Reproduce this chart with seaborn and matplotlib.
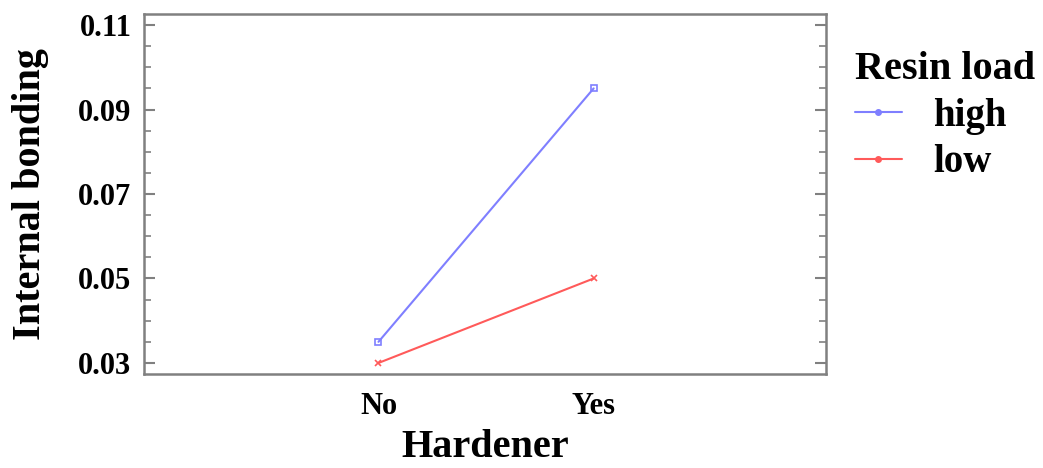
import numpy as np
import pandas as pd
import seaborn as sns
import matplotlib.pyplot as plt
from matplotlib.ticker import MultipleLocator

hardener = ["No", "Yes", "No", "Yes"]
resin_load = ["high", "high", "low", "low"]
bonding = [0.035, 0.095, 0.030, 0.050]

df = pd.DataFrame({"Hardener": hardener, "Resin load": resin_load, "Internal bonding": bonding})

sns.set_style("white")
plt.rcParams['font.family'] = ['Liberation Serif', 'DejaVu Serif']
plt.rcParams['font.weight'] = 'bold'
plt.rcParams['text.color'] = 'black'
plt.rcParams['axes.labelcolor'] = 'black'
plt.rcParams['xtick.color'] = 'black'
plt.rcParams['ytick.color'] = 'black'

fig = plt.figure(figsize=(10.43, 4.68), dpi=100)
ax = fig.add_axes([0.138, 0.201, 0.654, 0.769])

pal = {"high": "#7f7fff", "low": "#ff5a5a"}
mk = {"high": "s", "low": "x"}
for level in ["high", "low"]:
    sub = df[df["Resin load"] == level]
    sns.lineplot(data=sub, x="Hardener", y="Internal bonding", color=pal[level],
                 marker=mk[level], markersize=4, markeredgewidth=1.2,
                 markerfacecolor='none' if level == "high" else pal[level],
                 markeredgecolor=pal[level], linewidth=1.5, ax=ax)

ax.set_xlim(-1.09, 2.08)
ax.set_ylim(0.0274, 0.1126)
ax.yaxis.set_minor_locator(MultipleLocator(0.005))
ax.set_yticks([0.03, 0.05, 0.07, 0.09, 0.11])
ax.set_yticklabels(["0.03", "0.05", "0.07", "0.09", "0.11"])
ax.tick_params(axis='y', which='major', direction='in', length=8, width=1.5,
               color='#808080', labelcolor='black', left=True, right=True,
               labelsize=22, pad=9)
ax.tick_params(axis='y', which='minor', direction='in', length=5, width=1.2,
               color='#808080', left=True, right=True)
ax.tick_params(axis='x', length=0, labelsize=22, labelcolor='black', pad=13)
for s in ax.spines.values():
    s.set_color('#808080')
    s.set_linewidth(1.8)

ax.set_xlabel("Hardener", fontsize=29, fontweight='bold', labelpad=6)
ax.set_ylabel("Internal bonding", fontsize=29, fontweight='bold', labelpad=21)

handles = [plt.Line2D([], [], color=pal[k], marker='o', markersize=4, linewidth=1.5) for k in ["high", "low"]]
leg = fig.legend(handles, ["high", "low"], title="Resin load", loc='upper left',
                 bbox_to_anchor=(0.8198, 0.891), frameon=False, fontsize=28,
                 title_fontsize=29, handlelength=1.2, handletextpad=0.8,
                 labelspacing=0.25, borderpad=0, borderaxespad=0,
                 alignment='left')
leg.get_title().set_fontweight('bold')
for t in leg.get_texts():
    t.set_fontweight('bold')

fig.savefig("out.png", dpi=100)
